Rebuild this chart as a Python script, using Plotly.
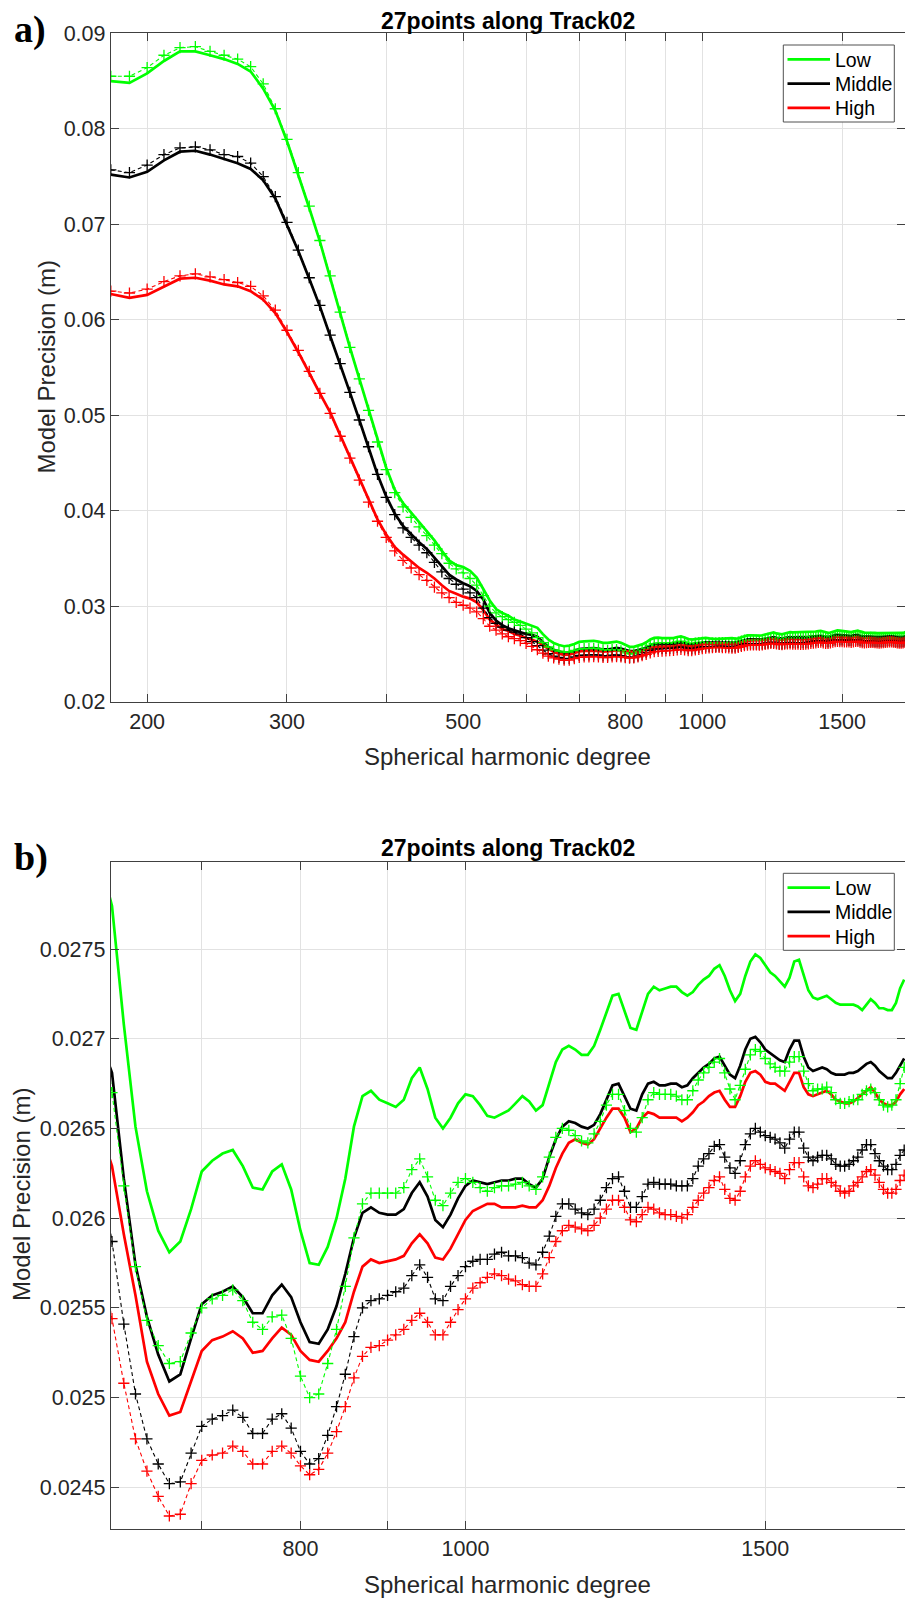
import plotly.graph_objects as go

# ---------------- data ----------------
degree = list(range(180, 1811, 10))

low_solid = [
    0.0850, 0.0848, 0.0858, 0.0871, 0.0881, 0.0881, 0.0877, 0.0873, 0.0868, 0.0860,
    0.0842, 0.0819, 0.0787, 0.0752, 0.0717, 0.0682, 0.0645, 0.0607, 0.0571, 0.0538,
    0.0506, 0.0474, 0.0445, 0.0422, 0.0408, 0.0398, 0.0388, 0.0379, 0.0369, 0.0358,
    0.0348, 0.0343, 0.0341, 0.0337, 0.0330, 0.0318, 0.0306, 0.0297, 0.0293, 0.0290,
    0.0286, 0.0284, 0.0282, 0.0280, 0.02774,
    0.02708, 0.02651, 0.02615, 0.02593, 0.02581, 0.02587, 0.02605, 0.02626, 0.02632, 0.02636,
    0.02638, 0.02629, 0.02617, 0.02616, 0.02626, 0.02630, 0.02616, 0.02593, 0.02575, 0.02574,
    0.02584, 0.02600, 0.02622, 0.02651, 0.02668, 0.02671, 0.02666, 0.02664, 0.02662, 0.02666,
    0.02678, 0.02684, 0.02672, 0.02656, 0.02650, 0.02656, 0.02664, 0.02669, 0.02668, 0.02663,
    0.02657, 0.02656, 0.02658, 0.02660, 0.02664, 0.02668, 0.02665, 0.02660, 0.02663, 0.02675,
    0.02687, 0.02694, 0.02696, 0.02694, 0.02691, 0.02691, 0.02696, 0.02705, 0.02714, 0.02724,
    0.02725, 0.02715, 0.02706, 0.02705, 0.02715, 0.02725, 0.02729, 0.02727, 0.02728, 0.02729,
    0.02729, 0.02726, 0.02724, 0.02726, 0.02730, 0.02733, 0.02735, 0.02739, 0.02741, 0.02735,
    0.02727, 0.02721, 0.02725, 0.02735, 0.02743, 0.02747, 0.02745, 0.02741, 0.02737, 0.02735,
    0.02732, 0.02729, 0.02734, 0.02743, 0.02744, 0.02736, 0.02727, 0.02723, 0.02722, 0.02723,
    0.02724, 0.02722, 0.02720, 0.02719, 0.02719, 0.02719, 0.02719, 0.02718, 0.02716, 0.02719,
    0.02722, 0.02720, 0.02717, 0.02717, 0.02716, 0.02716, 0.02720, 0.02728, 0.02733,
]

low_dash = [
    0.0855, 0.0855, 0.0864, 0.0877, 0.0885, 0.0886, 0.0881, 0.0877, 0.0873, 0.0865,
    0.0847, 0.0821, 0.0789, 0.0754, 0.0719, 0.0683, 0.0646, 0.0608, 0.0571, 0.0538,
    0.0505, 0.0472, 0.0443, 0.0419, 0.0404, 0.0393, 0.0383, 0.0374, 0.0364, 0.0355,
    0.0345, 0.0339, 0.0335, 0.0329, 0.0322, 0.0311, 0.0300, 0.0293, 0.0289, 0.0286,
    0.0283, 0.0280, 0.0276, 0.0272, 0.0267,
    0.02618, 0.02573, 0.02543, 0.02529, 0.02519, 0.02520, 0.02536, 0.02550, 0.02555, 0.02557,
    0.02560, 0.02554, 0.02542, 0.02538, 0.02545, 0.02546, 0.02533, 0.02512, 0.02500, 0.02502,
    0.02519, 0.02538, 0.02562, 0.02589, 0.02608, 0.02614, 0.02614, 0.02614, 0.02614, 0.02617,
    0.02627, 0.02633, 0.02623, 0.02610, 0.02607, 0.02614, 0.02620, 0.02622, 0.02620, 0.02617,
    0.02615, 0.02617, 0.02618, 0.02618, 0.02619, 0.02620, 0.02618, 0.02616, 0.02623, 0.02634,
    0.02645, 0.02650, 0.02649, 0.02646, 0.02643, 0.02642, 0.02647, 0.02654, 0.02663, 0.02669,
    0.02669, 0.02660, 0.02650, 0.02648, 0.02656, 0.02666, 0.02670, 0.02669, 0.02669, 0.02669,
    0.02668, 0.02666, 0.02666, 0.02671, 0.02677, 0.02681, 0.02684, 0.02687, 0.02689, 0.02681,
    0.02672, 0.02666, 0.02674, 0.02683, 0.02691, 0.02694, 0.02693, 0.02689, 0.02686, 0.02684,
    0.02682, 0.02682, 0.02687, 0.02690, 0.02690, 0.02682, 0.02675, 0.02671, 0.02672, 0.02672,
    0.02673, 0.02670, 0.02666, 0.02664, 0.02664, 0.02665, 0.02666, 0.02666, 0.02669, 0.02671,
    0.02672, 0.02670, 0.02666, 0.02663, 0.02662, 0.02663, 0.02666, 0.02675, 0.02684,
]

mid_solid = [
    0.0752, 0.0749, 0.0755, 0.0767, 0.0776, 0.0777, 0.0773, 0.0768, 0.0764, 0.0758,
    0.0746, 0.0727, 0.0700, 0.0672, 0.0643, 0.0614, 0.0583, 0.0554, 0.0524, 0.0495,
    0.0467, 0.0438, 0.0415, 0.0397, 0.0384, 0.0375, 0.0367, 0.0360, 0.0351, 0.0342,
    0.0333, 0.0328, 0.0324, 0.0321, 0.0316, 0.0307, 0.0293, 0.0285, 0.0280, 0.0277,
    0.0275, 0.0273, 0.0271, 0.0270, 0.02681,
    0.02622, 0.02574, 0.02545, 0.02524, 0.02509, 0.02513, 0.02533, 0.02552, 0.02557, 0.02559,
    0.02562, 0.02556, 0.02547, 0.02547, 0.02557, 0.02563, 0.02556, 0.02542, 0.02531, 0.02530,
    0.02538, 0.02551, 0.02569, 0.02589, 0.02603, 0.02606, 0.02603, 0.02602, 0.02602, 0.02605,
    0.02614, 0.02620, 0.02612, 0.02599, 0.02595, 0.02602, 0.02611, 0.02618, 0.02621, 0.02620,
    0.02619, 0.02620, 0.02621, 0.02621, 0.02622, 0.02622, 0.02619, 0.02617, 0.02622, 0.02634,
    0.02644, 0.02651, 0.02654, 0.02653, 0.02651, 0.02650, 0.02652, 0.02658, 0.02666, 0.02674,
    0.02675, 0.02668, 0.02661, 0.02660, 0.02669, 0.02675, 0.02676, 0.02674, 0.02674, 0.02675,
    0.02675, 0.02673, 0.02674, 0.02678, 0.02681, 0.02684, 0.02686, 0.02689, 0.02690, 0.02685,
    0.02680, 0.02678, 0.02685, 0.02694, 0.02700, 0.02701, 0.02698, 0.02694, 0.02692, 0.02690,
    0.02688, 0.02687, 0.02694, 0.02699, 0.02699, 0.02690, 0.02684, 0.02682, 0.02683, 0.02684,
    0.02683, 0.02681, 0.02680, 0.02680, 0.02680, 0.02681, 0.02681, 0.02682, 0.02684, 0.02686,
    0.02687, 0.02685, 0.02682, 0.02680, 0.02678, 0.02678, 0.02681, 0.02685, 0.02689,
]

mid_dash = [
    0.0757, 0.0754, 0.0762, 0.0773, 0.0780, 0.0781, 0.0778, 0.0773, 0.0771, 0.0764,
    0.0750, 0.0729, 0.0702, 0.0673, 0.0644, 0.0615, 0.0584, 0.0554, 0.0524, 0.0495,
    0.0467, 0.0438, 0.0414, 0.0396, 0.0382, 0.0372, 0.0364, 0.0356, 0.0346, 0.0336,
    0.0329, 0.0323, 0.0318, 0.0314, 0.0309, 0.0298, 0.0288, 0.0282, 0.0278, 0.0275,
    0.0273, 0.0271, 0.0267, 0.0263, 0.02587,
    0.02541, 0.02502, 0.02477, 0.02463, 0.02452, 0.02453, 0.02469, 0.02484, 0.02488, 0.02490,
    0.02493, 0.02489, 0.02480, 0.02480, 0.02488, 0.02491, 0.02483, 0.02470, 0.02463, 0.02466,
    0.02479, 0.02495, 0.02513, 0.02534, 0.02550, 0.02554, 0.02555, 0.02557, 0.02559, 0.02561,
    0.02568, 0.02574, 0.02567, 0.02555, 0.02554, 0.02562, 0.02568, 0.02573, 0.02576, 0.02577,
    0.02577, 0.02580, 0.02581, 0.02579, 0.02579, 0.02578, 0.02575, 0.02574, 0.02581, 0.02590,
    0.02601, 0.02608, 0.02608, 0.02605, 0.02603, 0.02602, 0.02605, 0.02610, 0.02617, 0.02622,
    0.02623, 0.02615, 0.02606, 0.02606, 0.02612, 0.02619, 0.02620, 0.02619, 0.02619, 0.02619,
    0.02618, 0.02618, 0.02618, 0.02622, 0.02629, 0.02633, 0.02636, 0.02640, 0.02641, 0.02634,
    0.02628, 0.02625, 0.02632, 0.02641, 0.02647, 0.02650, 0.02648, 0.02646, 0.02645, 0.02644,
    0.02642, 0.02639, 0.02644, 0.02648, 0.02648, 0.02639, 0.02634, 0.02632, 0.02634, 0.02635,
    0.02635, 0.02633, 0.02630, 0.02629, 0.02629, 0.02630, 0.02632, 0.02634, 0.02638, 0.02641,
    0.02641, 0.02636, 0.02632, 0.02629, 0.02627, 0.02627, 0.02630, 0.02635, 0.02638,
]

high_solid = [
    0.0627, 0.0623, 0.0626, 0.0635, 0.0643, 0.0644, 0.0641, 0.0637, 0.0635, 0.0630,
    0.0621, 0.0607, 0.0587, 0.0566, 0.0545, 0.0523, 0.0503, 0.0479, 0.0456, 0.0434,
    0.0411, 0.0391, 0.0375, 0.0362, 0.0354, 0.0347, 0.0340, 0.0335, 0.0329, 0.0322,
    0.0316, 0.0313, 0.0310, 0.0308, 0.0304, 0.0296, 0.0286, 0.0281, 0.0276, 0.0274,
    0.0271, 0.0269, 0.0267, 0.0265, 0.02629,
    0.02591, 0.02557, 0.02520, 0.02502, 0.02490, 0.02492, 0.02509, 0.02526, 0.02532, 0.02534,
    0.02537, 0.02533, 0.02525, 0.02526, 0.02533, 0.02539, 0.02535, 0.02526, 0.02521, 0.02520,
    0.02526, 0.02533, 0.02542, 0.02559, 0.02573, 0.02577, 0.02575, 0.02576, 0.02577, 0.02579,
    0.02586, 0.02591, 0.02586, 0.02578, 0.02577, 0.02583, 0.02591, 0.02599, 0.02604, 0.02606,
    0.02608, 0.02608, 0.02606, 0.02606, 0.02606, 0.02607, 0.02606, 0.02606, 0.02610, 0.02618,
    0.02628, 0.02636, 0.02642, 0.02644, 0.02642, 0.02641, 0.02644, 0.02650, 0.02656, 0.02661,
    0.02661, 0.02656, 0.02648, 0.02650, 0.02656, 0.02659, 0.02658, 0.02656, 0.02656, 0.02656,
    0.02656, 0.02654, 0.02656, 0.02659, 0.02663, 0.02665, 0.02668, 0.02670, 0.02671, 0.02666,
    0.02662, 0.02662, 0.02668, 0.02676, 0.02681, 0.02682, 0.02680, 0.02676, 0.02675, 0.02675,
    0.02673, 0.02671, 0.02676, 0.02681, 0.02681, 0.02673, 0.02669, 0.02668, 0.02669, 0.02670,
    0.02671, 0.02669, 0.02666, 0.02665, 0.02664, 0.02664, 0.02665, 0.02667, 0.02669, 0.02671,
    0.02673, 0.02670, 0.02666, 0.02664, 0.02663, 0.02663, 0.02665, 0.02669, 0.02672,
]

high_dash = [
    0.0630, 0.0628, 0.0632, 0.0640, 0.0646, 0.0648, 0.0645, 0.0642, 0.0639, 0.0635,
    0.0625, 0.0610, 0.0589, 0.0568, 0.0546, 0.0523, 0.0502, 0.0478, 0.0455, 0.0432,
    0.0409, 0.0389, 0.0372, 0.0358, 0.0348, 0.0340, 0.0333, 0.0327, 0.0320, 0.0314,
    0.0309, 0.0304, 0.0301, 0.0298, 0.0294, 0.0287, 0.0279, 0.0275, 0.0271, 0.0268,
    0.0266, 0.0264, 0.0261, 0.0258, 0.02544,
    0.02508, 0.02477, 0.02459, 0.02445, 0.02434, 0.02435, 0.02452, 0.02465, 0.02468, 0.02469,
    0.02473, 0.02470, 0.02463, 0.02463, 0.02470, 0.02473, 0.02469, 0.02462, 0.02457, 0.02460,
    0.02469, 0.02481, 0.02495, 0.02511, 0.02523, 0.02528, 0.02529, 0.02532, 0.02535, 0.02538,
    0.02543, 0.02547, 0.02542, 0.02535, 0.02535, 0.02542, 0.02549, 0.02555, 0.02561, 0.02564,
    0.02567, 0.02569, 0.02568, 0.02566, 0.02565, 0.02563, 0.02562, 0.02562, 0.02569, 0.02578,
    0.02587, 0.02593, 0.02596, 0.02595, 0.02594, 0.02593, 0.02596, 0.02600, 0.02605, 0.02610,
    0.02610, 0.02606, 0.02599, 0.02598, 0.02602, 0.02606, 0.02605, 0.02603, 0.02602, 0.02602,
    0.02601, 0.02600, 0.02602, 0.02606, 0.02610, 0.02614, 0.02617, 0.02621, 0.02623, 0.02616,
    0.02611, 0.02610, 0.02615, 0.02623, 0.02629, 0.02632, 0.02630, 0.02628, 0.02627, 0.02626,
    0.02625, 0.02622, 0.02627, 0.02631, 0.02631, 0.02623, 0.02618, 0.02617, 0.02619, 0.02622,
    0.02622, 0.02620, 0.02618, 0.02615, 0.02614, 0.02615, 0.02618, 0.02620, 0.02623, 0.02626,
    0.02627, 0.02624, 0.02620, 0.02616, 0.02614, 0.02614, 0.02616, 0.02621, 0.02624,
]

series_names = ["Low", "Middle", "High"]
series_colors = ["#00ff00", "#000000", "#ff0000"]
solid_series = [low_solid, mid_solid, high_solid]
dash_series = [low_dash, mid_dash, high_dash]

xtick_a = [200, 300, 400, 500, 600, 700, 800, 900, 1000, 1500]
xtext_a = ["200", "300", "", "500", "", "", "800", "", "1000", "1500"]
ytick_a = [0.02, 0.03, 0.04, 0.05, 0.06, 0.07, 0.08, 0.09]
ytext_a = ["0.02", "0.03", "0.04", "0.05", "0.06", "0.07", "0.08", "0.09"]
xtick_b = [700, 800, 900, 1000, 1500]
xtext_b = ["", "800", "", "1000", "1500"]
ytick_b = [0.0245, 0.025, 0.0255, 0.026, 0.0265, 0.027, 0.0275]
ytext_b = ["0.0245", "0.025", "0.0255", "0.026", "0.0265", "0.027", "0.0275"]

title_text = "27points along Track02"
xlabel = "Spherical harmonic degree"
ylabel = "Model Precision (m)"

for s in solid_series + dash_series:
    assert len(s) == len(degree), len(s)

# ---------------- figure ----------------
W, H = 905, 1598
SANS = "Arial, Liberation Sans, Helvetica, sans-serif"
AX = "#404040"
GRID = "#e2e2e2"


def px(x):
    return x / W


def py(y):
    return 1 - y / H


fig = go.Figure()

for xa, ya in (("x", "y"), ("x2", "y2")):
    for name, color, ys in zip(series_names, series_colors, solid_series):
        fig.add_trace(go.Scatter(
            x=degree, y=ys, mode="lines", name=name,
            line=dict(color=color, width=2.7),
            xaxis=xa, yaxis=ya, showlegend=False,
        ))
    for name, color, ys in zip(series_names, series_colors, dash_series):
        fig.add_trace(go.Scatter(
            x=degree, y=ys, mode="lines+markers", name=name + " (dashed)",
            line=dict(color=color, width=1.1, dash="4px,3px"),
            marker=dict(symbol="cross-thin", size=8,
                        line=dict(color=color, width=1.3), color=color),
            xaxis=xa, yaxis=ya, showlegend=False,
        ))

xdom = [px(110.8), 1.0]
ya_dom = [py(701.7), py(33.3)]
yb_dom = [py(1529.3), py(862.0)]

common_ax = dict(
    showline=True, linecolor=AX, linewidth=1, mirror="ticks",
    ticks="inside", ticklen=8, tickcolor=AX, tickwidth=1,
    showgrid=True, gridcolor=GRID, gridwidth=1, zeroline=False,
    automargin=False,
    tickfont=dict(family=SANS, size=21.5, color="#262626"),
)

fig.update_layout(
    width=W, height=H,
    margin=dict(l=0, r=0, t=0, b=0, pad=0, autoexpand=False),
    paper_bgcolor="white", plot_bgcolor="white",
    font=dict(family=SANS, color="#262626"),
    showlegend=False,
    xaxis=dict(type="log", range=[2.255273, 3.255273], domain=xdom, anchor="y",
               tickmode="array", tickvals=xtick_a, ticktext=xtext_a, **common_ax),
    yaxis=dict(range=[0.02, 0.09], domain=ya_dom, anchor="x",
               tickmode="array", tickvals=ytick_a, ticktext=ytext_a, **common_ax),
    xaxis2=dict(type="log", range=[2.791691, 3.258158], domain=xdom, anchor="y2",
                tickmode="array", tickvals=xtick_b, ticktext=xtext_b, **common_ax),
    yaxis2=dict(range=[0.024266, 0.027985], domain=yb_dom, anchor="x2",
                tickmode="array", tickvals=ytick_b, ticktext=ytext_b, **common_ax),
)

ann = []
shapes = []
# titles
for yc in (21, 848):
    ann.append(dict(text="<b>" + title_text + "</b>", x=px(508), y=py(yc),
                    xref="paper", yref="paper", xanchor="center", yanchor="middle",
                    showarrow=False, font=dict(family=SANS, size=23, color="#000000")))
# x labels
for yc in (756, 1584):
    ann.append(dict(text=xlabel, x=px(508), y=py(yc), xref="paper", yref="paper",
                    xanchor="center", yanchor="middle", showarrow=False,
                    font=dict(family=SANS, size=24, color="#262626")))
# y labels
for xc, yc in ((46, 367.5), (21, 1195)):
    ann.append(dict(text=ylabel, x=px(xc), y=py(yc), xref="paper", yref="paper",
                    xanchor="center", yanchor="middle", textangle=-90, showarrow=False,
                    font=dict(family=SANS, size=24, color="#262626")))
# panel letters
for lab, yc in (("a)", 29), ("b)", 857)):
    ann.append(dict(text="<b>" + lab + "</b>", x=px(12), y=py(yc), xref="paper", yref="paper",
                    xanchor="left", yanchor="middle", showarrow=False,
                    font=dict(family="Liberation Serif, Times New Roman, serif", size=38,
                              color="#000000")))

# legends (MATLAB-style boxes, top-right of each panel)
for box_top in (45.0, 873.3):
    box_bottom = box_top + 77
    shapes.append(dict(type="rect", xref="paper", yref="paper",
                       x0=px(783.3), x1=px(894.3), y0=py(box_bottom), y1=py(box_top),
                       line=dict(color="#505050", width=1), fillcolor="white", layer="above"))
    for i, (name, color) in enumerate(zip(series_names, series_colors)):
        yc = box_top + 14.3 + i * 24.3
        shapes.append(dict(type="line", xref="paper", yref="paper",
                           x0=px(787.5), x1=px(830), y0=py(yc), y1=py(yc),
                           line=dict(color=color, width=2.7), layer="above"))
        ann.append(dict(text=name, x=px(832.5), y=py(yc + 0.5), xref="paper", yref="paper",
                        xanchor="left", yanchor="middle", showarrow=False,
                        font=dict(family=SANS, size=19.5, color="#000000")))

fig.update_layout(annotations=ann, shapes=shapes)

fig.write_html("out.html", config={"displayModeBar": False},
               post_script="document.body.style.margin='0';")
